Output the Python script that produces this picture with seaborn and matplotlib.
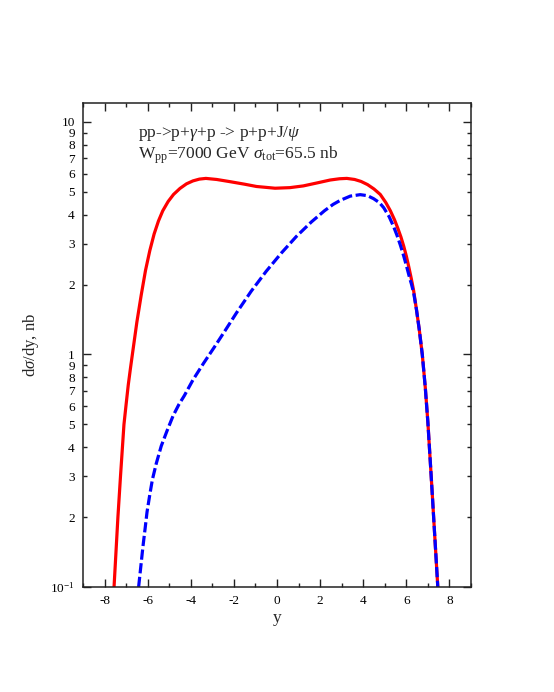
import matplotlib
matplotlib.use("Agg")
import matplotlib.pyplot as plt
import seaborn as sns
import pandas as pd
from matplotlib.ticker import FixedLocator, FixedFormatter

# ---- data ----
red_x = [-7.56, -7.38, -7.26, -7.10, -7.00, -6.90, -6.80, -6.71, -6.50, -6.30,
         -6.10, -5.90, -5.70, -5.50, -5.30, -5.05, -4.80, -4.50, -4.20, -3.90,
         -3.60, -3.30, -2.80, -2.19, -1.50, -0.95, -0.09, 0.60, 1.22, 1.90,
         2.47, 2.90, 3.24, 3.60, 3.90, 4.20, 4.50, 4.79, 5.05, 5.26,
         5.45, 5.60, 5.75, 5.88, 6.00, 6.11, 6.23, 6.34, 6.47, 6.60,
         6.74, 6.88, 7.00, 7.10, 7.19, 7.30, 7.38, 7.46]
red_y = [0.10, 0.20, 0.30, 0.50, 0.61, 0.74, 0.87, 1.00, 1.38, 1.80,
         2.30, 2.80, 3.30, 3.75, 4.15, 4.55, 4.88, 5.18, 5.42, 5.58,
         5.68, 5.72, 5.66, 5.54, 5.40, 5.28, 5.19, 5.22, 5.31, 5.48,
         5.63, 5.70, 5.72, 5.66, 5.55, 5.38, 5.15, 4.88, 4.50, 4.15,
         3.80, 3.50, 3.20, 2.92, 2.65, 2.39, 2.12, 1.88, 1.56, 1.28,
         1.00, 0.72, 0.51, 0.36, 0.263, 0.177, 0.133, 0.10]

blue_x = [-6.42, -6.32, -6.22, -6.12, -6.03, -5.90, -5.78, -5.60, -5.37, -5.10,
          -4.82, -4.55, -4.30, -3.89, -3.40, -2.88, -2.40, -1.88, -1.20, -0.50,
          0.20, 0.90, 1.60, 2.20, 2.60, 2.93, 3.40, 3.86, 4.20, 4.48,
          4.75, 4.95, 5.20, 5.41, 5.57, 5.72, 5.88, 6.03, 6.15, 6.23,
          6.34, 6.47, 6.60, 6.74, 6.88, 7.00, 7.10, 7.19, 7.30, 7.38, 7.46]
blue_y = [0.10, 0.122, 0.149, 0.178, 0.21, 0.25, 0.29, 0.34, 0.404, 0.47,
          0.545, 0.61, 0.665, 0.78, 0.919, 1.085, 1.27, 1.51, 1.87, 2.28,
          2.73, 3.22, 3.72, 4.15, 4.42, 4.60, 4.80, 4.87, 4.82, 4.68,
          4.50, 4.28, 3.92, 3.55, 3.25, 2.96, 2.65, 2.36, 2.14, 2.02,
          1.84, 1.56, 1.28, 1.00, 0.72, 0.51, 0.36, 0.263, 0.177, 0.133, 0.10]

x_ticks = [-8, -6, -4, -2, 0, 2, 4, 6, 8]
x_minor = [-9, -7, -5, -3, -1, 1, 3, 5, 7, 9]
y_major = [0.1, 1, 10]
y_major_labels = ["$10^{-1}$", "1", "10"]
y_minor = [0.2, 0.3, 0.4, 0.5, 0.6, 0.7, 0.8, 0.9, 2, 3, 4, 5, 6, 7, 8, 9]
y_minor_labels = ["2", "3", "4", "5", "6", "7", "8", "9",
                  "2", "3", "4", "5", "6", "7", "8", "9"]

line1 = "pp->p+$\\gamma$+p -> p+p+J/$\\psi$"
line2 = "W$_{\\rm pp}$=7000 GeV $\\sigma_{\\rm tot}$=65.5 nb"

# ---- style ----
sns.set_theme(style="ticks")
plt.rcParams["font.family"] = ["Liberation Serif", "DejaVu Serif"]
plt.rcParams["mathtext.fontset"] = "custom"
plt.rcParams["mathtext.rm"] = "Liberation Serif"
plt.rcParams["mathtext.it"] = "Liberation Serif:italic"
plt.rcParams["mathtext.bf"] = "Liberation Serif:bold"
plt.rcParams["axes.unicode_minus"] = False

W, H = 554, 692
fig = plt.figure(figsize=(W / 100, H / 100), dpi=100)
fig.patch.set_facecolor("white")
ax = fig.add_axes([83 / W, 1 - 587 / H, (471 - 83) / W, (587 - 103) / H])
ax.set_facecolor("white")

df_red = pd.DataFrame({"y": red_x, "v": red_y})
df_blue = pd.DataFrame({"y": blue_x, "v": blue_y})

sns.lineplot(data=df_red, x="y", y="v", ax=ax, color="#ff0000", lw=2.3,
             estimator=None, sort=False)
sns.lineplot(data=df_blue, x="y", y="v", ax=ax, color="#0000ff", lw=2.3,
             estimator=None, sort=False, dashes=False, linestyle=(0, (3.2, 1.1)))

ax.set_yscale("log")
ax.set_xlim(-9, 9)
ax.set_ylim(0.1, 12.07)

ax.xaxis.set_major_locator(FixedLocator(x_ticks))
ax.xaxis.set_minor_locator(FixedLocator(x_minor))
ax.set_xticklabels([str(t) for t in x_ticks])
ax.yaxis.set_major_locator(FixedLocator(y_major))
ax.yaxis.set_major_formatter(FixedFormatter(y_major_labels))
ax.yaxis.set_minor_locator(FixedLocator(y_minor))
ax.yaxis.set_minor_formatter(FixedFormatter(y_minor_labels))

for side in ["left", "right", "top", "bottom"]:
    ax.spines[side].set_visible(True)
    ax.spines[side].set_color("#222222")
    ax.spines[side].set_linewidth(1.1)

ax.tick_params(which="both", direction="in", top=True, right=True,
               colors="#222222", labelcolor="black", width=1.0)
ax.tick_params(which="major", length=6, labelsize=9.5, pad=6)
ax.tick_params(which="minor", length=3, labelsize=9.5, pad=6)
ax.tick_params(axis="x", which="minor", labelbottom=False)

ax.set_xlabel("y", fontsize=12.5)
ax.set_ylabel("d$\\sigma$/dy, nb", fontsize=12)
ax.xaxis.set_label_coords(0.5, -(610 - 587) / (587 - 103))
ax.yaxis.set_label_coords(-(83 - 41) / (471 - 83), 1 - (345 - 103) / (587 - 103))

fig.text(138 / W, 1 - 137 / H, line1, fontsize=12.5, ha="left", va="baseline")
fig.text(138 / W, 1 - 159 / H, line2, fontsize=12.5, ha="left", va="baseline")

fig.savefig("out.png", dpi=100, facecolor="white")
